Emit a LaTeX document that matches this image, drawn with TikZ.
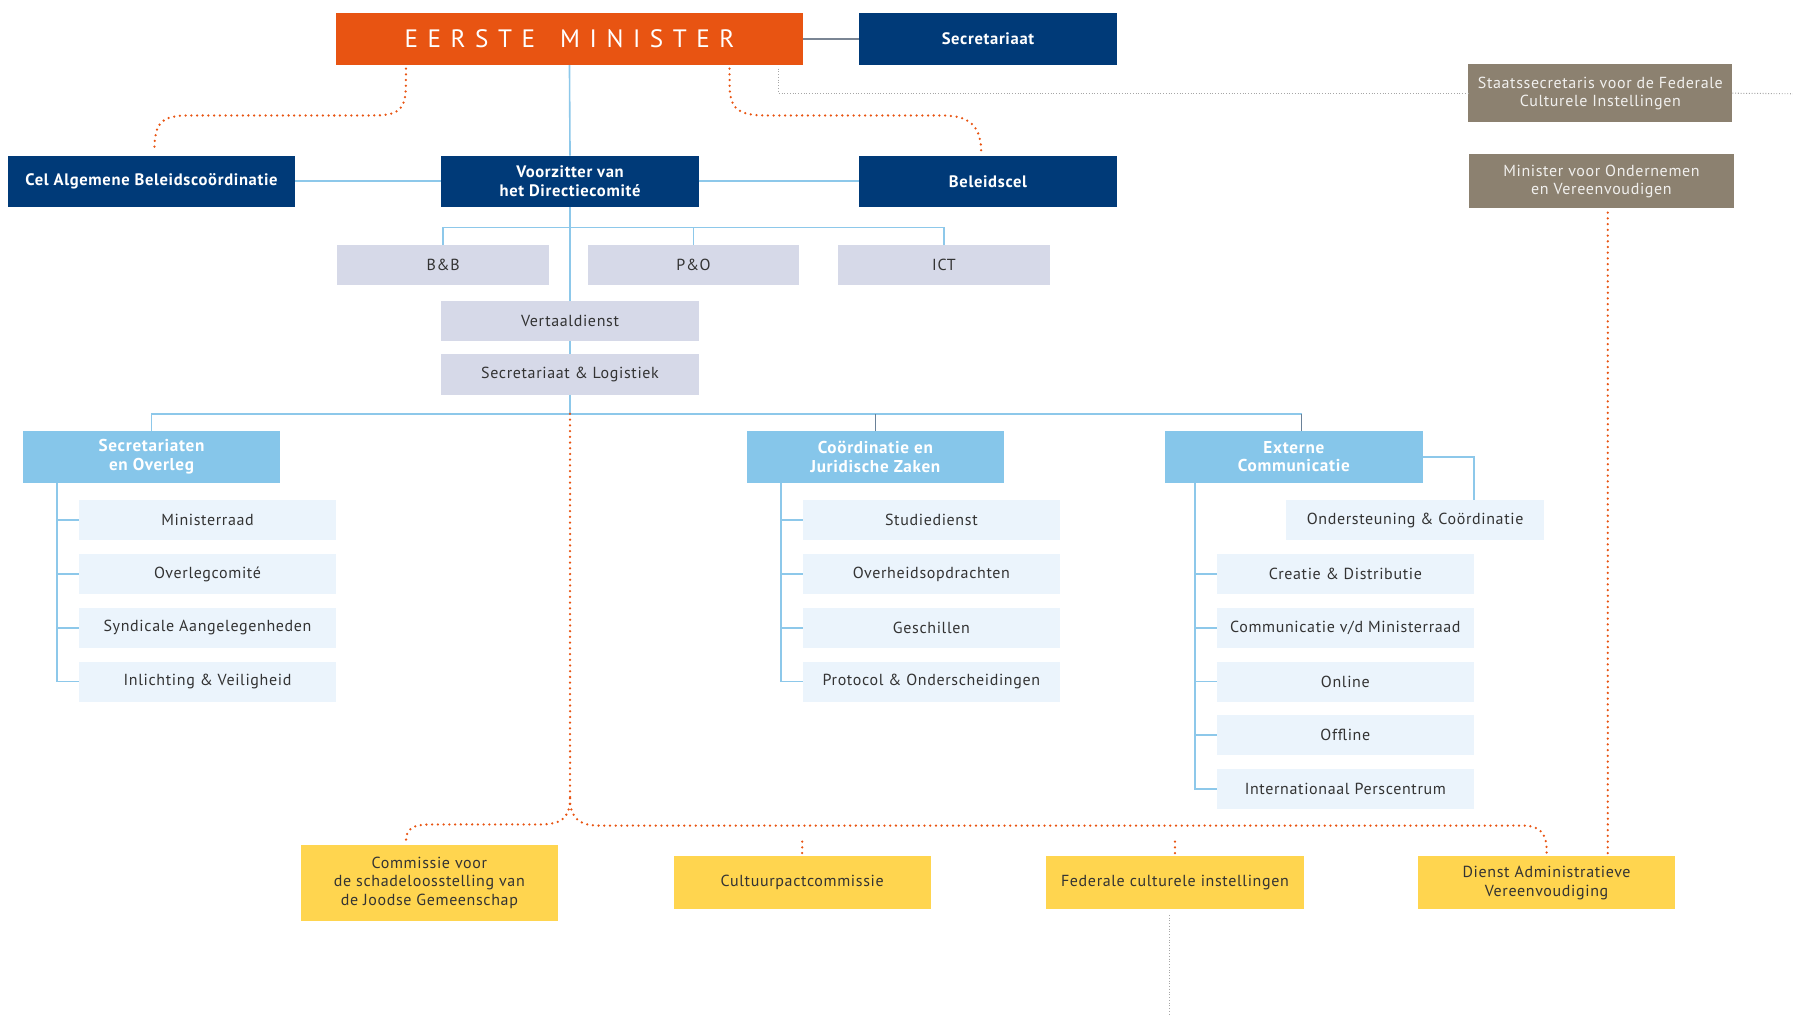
\documentclass[tikz,border=0pt]{standalone}
\usepackage{fontspec}
\setmainfont{PT Sans}[LetterSpace=4]
\newfontfamily\emfont[LetterSpace=38]{PT Sans}
\definecolor{orng}{HTML}{E85412}
\definecolor{dblue}{HTML}{003A78}
\definecolor{brwn}{HTML}{8C8170}
\definecolor{lline}{HTML}{8DC8EA}
\definecolor{hdrblue}{HTML}{86C6EA}
\definecolor{graybox}{HTML}{D6D9E8}
\definecolor{subbox}{HTML}{EBF4FC}
\definecolor{yell}{HTML}{FFD54F}
\definecolor{txt}{HTML}{333333}
\definecolor{gline}{HTML}{7A8594}
\definecolor{dline}{HTML}{6A8198}
\begin{document}
\begin{tikzpicture}[x=1pt,y=-1pt,
  box/.style={inner sep=0pt,outer sep=0pt,align=center},
  darkbox/.style={box,fill=dblue,text=white,font=\fontsize{14.5}{16}\selectfont\bfseries,minimum width=226pt,minimum height=45pt},
  brownbox/.style={box,fill=brwn,text=white!88!brwn,font=\fontsize{14}{15.5}\selectfont,minimum width=231pt},
  graybx/.style={box,fill=graybox,text=txt,font=\fontsize{14}{16}\selectfont,minimum width=185pt,minimum height=35pt},
  hdr/.style={box,fill=hdrblue,text=white,font=\fontsize{15}{16}\selectfont\bfseries,minimum width=225pt,minimum height=45pt},
  subbx/.style={box,fill=subbox,text=txt,font=\fontsize{14}{16}\selectfont,minimum width=225pt,minimum height=35pt},
  yelbox/.style={box,fill=yell,text=txt,font=\fontsize{14}{16.5}\selectfont,minimum width=225pt,minimum height=46pt},
  bline/.style={draw=lline,line width=1.4pt},
  odot/.style={draw=orng,line width=2.2pt,line cap=round,dash pattern=on 0pt off 5pt},
  gdot/.style={draw=gray!70,line width=0.9pt,dash pattern=on 0.8pt off 1.6pt}]
\useasboundingbox (0,0) rectangle (1568,888.5);
% top row
\node[box,fill=orng,text=white,minimum width=408pt,minimum height=46pt,font=\emfont\fontsize{22}{24}\selectfont] (em) at (498,34) {EERSTE\hspace{22pt}MINISTER};
\node[darkbox,minimum height=46pt] (sec) at (864,34) {Secretariaat};
\node[brownbox,minimum height=51pt] (staats) at (1399.5,81.5) {Staatssecretaris voor de Federale\\Culturele Instellingen};
\node[brownbox,minimum height=47pt] (minond) at (1400.5,158.5) {Minister voor Ondernemen\\en Vereenvoudigen};
% second row
\node[darkbox,minimum width=251pt] (cel) at (132.5,158.5) {Cel Algemene Beleidscoördinatie};
\node[darkbox,minimum width=225pt] (voorz) at (498.5,158.5) {Voorzitter van\\het Directiecomité};
\node[darkbox] (beleid) at (864,158.5) {Beleidscel};
% staff
\node[graybx] (bb) at (387.5,231.5) {B\&B};
\node[graybx] (po) at (606.5,231.5) {P\&O};
\node[graybx] (ict) at (825.5,231.5) {ICT};
\node[graybx,minimum width=225pt] (vert) at (498.5,280.5) {Vertaaldienst};
\node[graybx,minimum width=225pt] (seclog) at (498.5,327.5) {Secretariaat \& Logistiek};
% headers
\node[hdr] (h1) at (132.5,399.5) {Secretariaten\\en Overleg};
\node[hdr] (h2) at (765.5,399.5) {Coördinatie en\\Juridische Zaken};
\node[hdr] (h3) at (1131.5,399.5) {Externe\\Communicatie};
% left items
\node[subbx] (a1) at (181.5,455) {Ministerraad};
\node[subbx] (a2) at (181.5,502) {Overlegcomité};
\node[subbx] (a3) at (181.5,549) {Syndicale Aangelegenheden};
\node[subbx] (a4) at (181.5,596) {Inlichting \& Veiligheid};
% middle items
\node[subbx] (b1) at (814.5,455) {Studiedienst};
\node[subbx] (b2) at (814.5,502) {Overheidsopdrachten};
\node[subbx] (b3) at (814.5,549) {Geschillen};
\node[subbx] (b4) at (814.5,596) {Protocol \& Onderscheidingen};
% right items
\node[subbx] (ond) at (1237.5,455) {Ondersteuning \& Coördinatie};
\node[subbx] (c1) at (1176.5,502) {Creatie \& Distributie};
\node[subbx] (c2) at (1176.5,549) {Communicatie v/d Ministerraad};
\node[subbx] (c3) at (1176.5,596) {Online};
\node[subbx] (c4) at (1176.5,643) {Offline};
\node[subbx] (c5) at (1176.5,690) {Internationaal Perscentrum};
% yellow
\node[yelbox,minimum height=66pt] (comm) at (375.5,772) {Commissie voor\\de schadeloosstelling van\\de Joodse Gemeenschap};
\node[yelbox] (cult) at (701.5,772) {Cultuurpactcommissie};
\node[yelbox] (fed) at (1027.5,772) {Federale culturele instellingen};
\node[yelbox] (dienst) at (1352.5,772) {Dienst Administratieve\\Vereenvoudiging};
% coordinates
\coordinate (br) at (498.5,199);
\coordinate (hub) at (498.5,362);
\coordinate (t1) at (50,422);
\coordinate (t2) at (683,422);
\coordinate (t3) at (1045,422);
\coordinate (split) at (498.5,698);
\coordinate (redge) at (1568,82);
\coordinate (bedge) at (1023,888.5);
\coordinate (h3top) at ([xshift=6.5pt]h3.north);
% connectors
\draw[draw=gline,line width=1.4pt] (em.east) -- (sec.west);
\draw[bline] (em.south) -- (voorz.north);
\draw[bline] (cel.east) -- (voorz.west);
\draw[bline] (voorz.east) -- (beleid.west);
\draw[bline] (voorz.south) -- (vert.north);
\draw[bline] (vert.south) -- (seclog.north);
\draw[bline] (seclog.south) -- (hub);
\draw[bline] (bb.north) |- (br) -| (ict.north);
\draw[bline] (po.north) -- (po.north |- br);
\draw[bline] (h1.north) |- (hub) -| (h3top);
\draw[bline] (hub) -| (h2.north);
\draw[draw=dline,line width=1.2pt] (h2.north) -- ++(0,-15);
\draw[draw=dline,line width=1.2pt] (h3top) -- ++(0,-15);
\draw[bline] (t1) |- (a4.west);
\foreach \n in {a1,a2,a3} \draw[bline] (t1 |- \n.west) -- (\n.west);
\draw[bline] (t2) |- (b4.west);
\foreach \n in {b1,b2,b3} \draw[bline] (t2 |- \n.west) -- (\n.west);
\draw[bline] (t3) |- (c5.west);
\foreach \n in {c1,c2,c3,c4} \draw[bline] (t3 |- \n.west) -- (\n.west);
\draw[bline] (h3.east) -| (ond.north -| c1.east);
% dotted relations
\draw[odot] ([xshift=-143pt,yshift=-3pt]em.south) -- (355,72) .. controls (355,96) and (350,101) .. (325,101) -- (165,101) .. controls (140,101) and (135,108) .. ([xshift=2.5pt,yshift=3pt]cel.north);
\draw[odot] ([xshift=140pt,yshift=-3pt]em.south) -- (638,72) .. controls (638,96) and (645,101) .. (672,101) -- (825,101) .. controls (852,101) and (858,115) .. ([xshift=-6pt,yshift=3pt]beleid.north);
\draw[gdot] ([xshift=183pt,yshift=-3pt]em.south) |- (staats.west);
\draw[gdot] (staats.east) -- (redge);
\draw[odot] ([xshift=5.5pt,yshift=-4pt]minond.south) -- ([xshift=53.5pt,yshift=3pt]dienst.north);
\draw[odot] (hub) -- (split);
\draw[odot] (split) .. controls (498.5,716) and (490,721) .. (472,721) -- (375,721) .. controls (360,721) and (355,726) .. ([xshift=-20.5pt,yshift=3pt]comm.north);
\draw[odot] (split) .. controls (498.5,716) and (507,722) .. (525,722) -- (1332,722) .. controls (1348,722) and (1353,730) .. ([yshift=3pt]dienst.north);
\draw[odot] ([yshift=3pt]cult.north) -- ++(0,-14);
\draw[odot] ([yshift=3pt]fed.north) -- ++(0,-14);
\draw[gdot] ([xshift=-4.5pt,yshift=-5pt]fed.south) -- (bedge);
\end{tikzpicture}
\end{document}
